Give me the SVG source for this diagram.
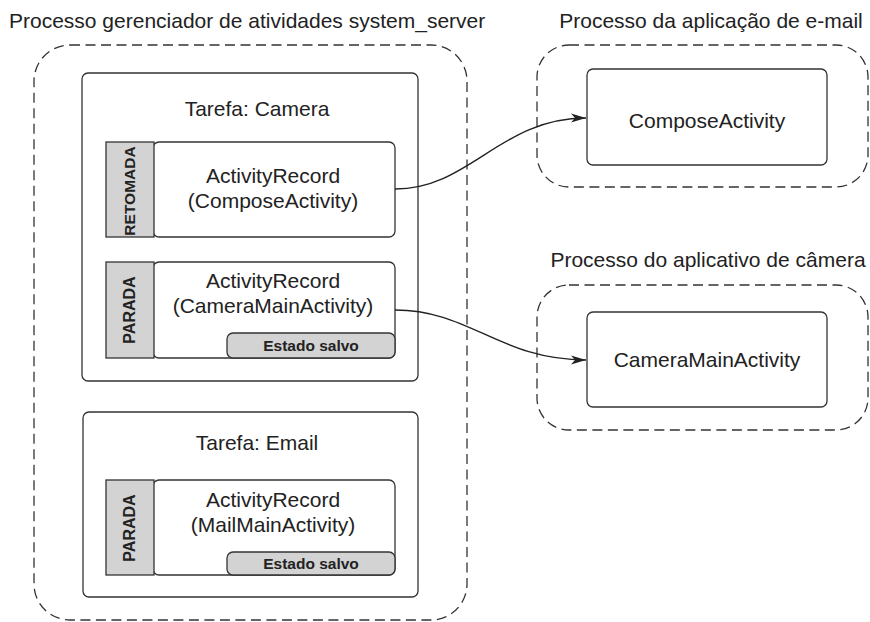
<svg xmlns="http://www.w3.org/2000/svg" width="870" height="622" viewBox="0 0 870 622">
<defs>
<style>
.t{font-family:"Liberation Sans",Arial,sans-serif;font-size:21px;fill:#222;}
.c{text-anchor:middle;}
.b{font-family:"Liberation Sans",Arial,sans-serif;font-weight:bold;fill:#222;text-anchor:middle;}
.dash{fill:none;stroke:#333;stroke-width:1.3;stroke-dasharray:10 5.5;}
.box{fill:#fff;stroke:#333;stroke-width:1.3;}
.lab{fill:#d3d3d3;stroke:#333;stroke-width:1.3;}
.conn{fill:none;stroke:#222;stroke-width:1.4;}
</style>
<marker id="arr" markerUnits="userSpaceOnUse" markerWidth="16" markerHeight="10" refX="15" refY="5" orient="auto">
<path d="M0,0.5 L15,5 L0,9.5 L4,5 z" fill="#222"/>
</marker>
</defs>

<g id="system_server">
<rect class="dash" x="34" y="45" width="433" height="575" rx="36"/>
<text class="t" x="9" y="28">Processo gerenciador de atividades system_server</text>
</g>

<g id="task_camera">
<rect class="box" x="82" y="73" width="336" height="308" rx="6"/>
<text class="t c" x="257" y="116">Tarefa: Camera</text>
</g>

<g id="record_compose">
<rect class="box" x="153" y="142" width="242" height="95" rx="6"/>
<rect class="lab" x="106" y="142" width="48" height="95"/>
<text class="b" font-size="15.5" transform="translate(135,191) rotate(-90)">RETOMADA</text>
<text class="t c" x="273" y="183">ActivityRecord</text>
<text class="t c" x="273" y="208">(ComposeActivity)</text>
</g>

<g id="record_camera">
<rect class="box" x="153" y="262" width="242" height="96" rx="6"/>
<rect class="lab" x="106" y="262" width="48" height="96"/>
<text class="b" font-size="16" transform="translate(135,310) rotate(-90)">PARADA</text>
<text class="t c" x="273" y="288">ActivityRecord</text>
<text class="t c" x="273" y="313">(CameraMainActivity)</text>
<rect class="lab" x="227" y="333" width="168" height="25" rx="6"/>
<text class="b" font-size="15.5" x="311" y="350.5">Estado salvo</text>
</g>

<g id="task_email">
<rect class="box" x="83" y="412" width="335" height="185" rx="6"/>
<text class="t c" x="257" y="450">Tarefa: Email</text>
</g>

<g id="record_mail">
<rect class="box" x="153" y="480" width="242" height="95" rx="6"/>
<rect class="lab" x="106" y="480" width="48" height="95"/>
<text class="b" font-size="16" transform="translate(135,528) rotate(-90)">PARADA</text>
<text class="t c" x="273" y="507">ActivityRecord</text>
<text class="t c" x="273" y="532">(MailMainActivity)</text>
<rect class="lab" x="227" y="552" width="168" height="23" rx="6"/>
<text class="b" font-size="15.5" x="311" y="569">Estado salvo</text>
</g>

<g id="email_process">
<rect class="dash" x="537" y="45" width="331" height="142" rx="32"/>
<text class="t c" x="711" y="28">Processo da aplicação de e-mail</text>
</g>

<g id="compose_activity">
<rect class="box" x="587" y="69" width="240" height="96" rx="6"/>
<text class="t c" x="707" y="128">ComposeActivity</text>
</g>

<g id="camera_process">
<rect class="dash" x="537" y="285" width="331" height="145" rx="32"/>
<text class="t c" x="708" y="267">Processo do aplicativo de câmera</text>
</g>

<g id="camera_main_activity">
<rect class="box" x="587" y="312" width="240" height="95" rx="6"/>
<text class="t c" x="707" y="367">CameraMainActivity</text>
</g>

<g id="connectors">
<path class="conn" d="M395,189 C470,189 500,118 586,118" marker-end="url(#arr)"/>
<path class="conn" d="M395,310 C470,310 500,360 586,360" marker-end="url(#arr)"/>
</g>
</svg>
